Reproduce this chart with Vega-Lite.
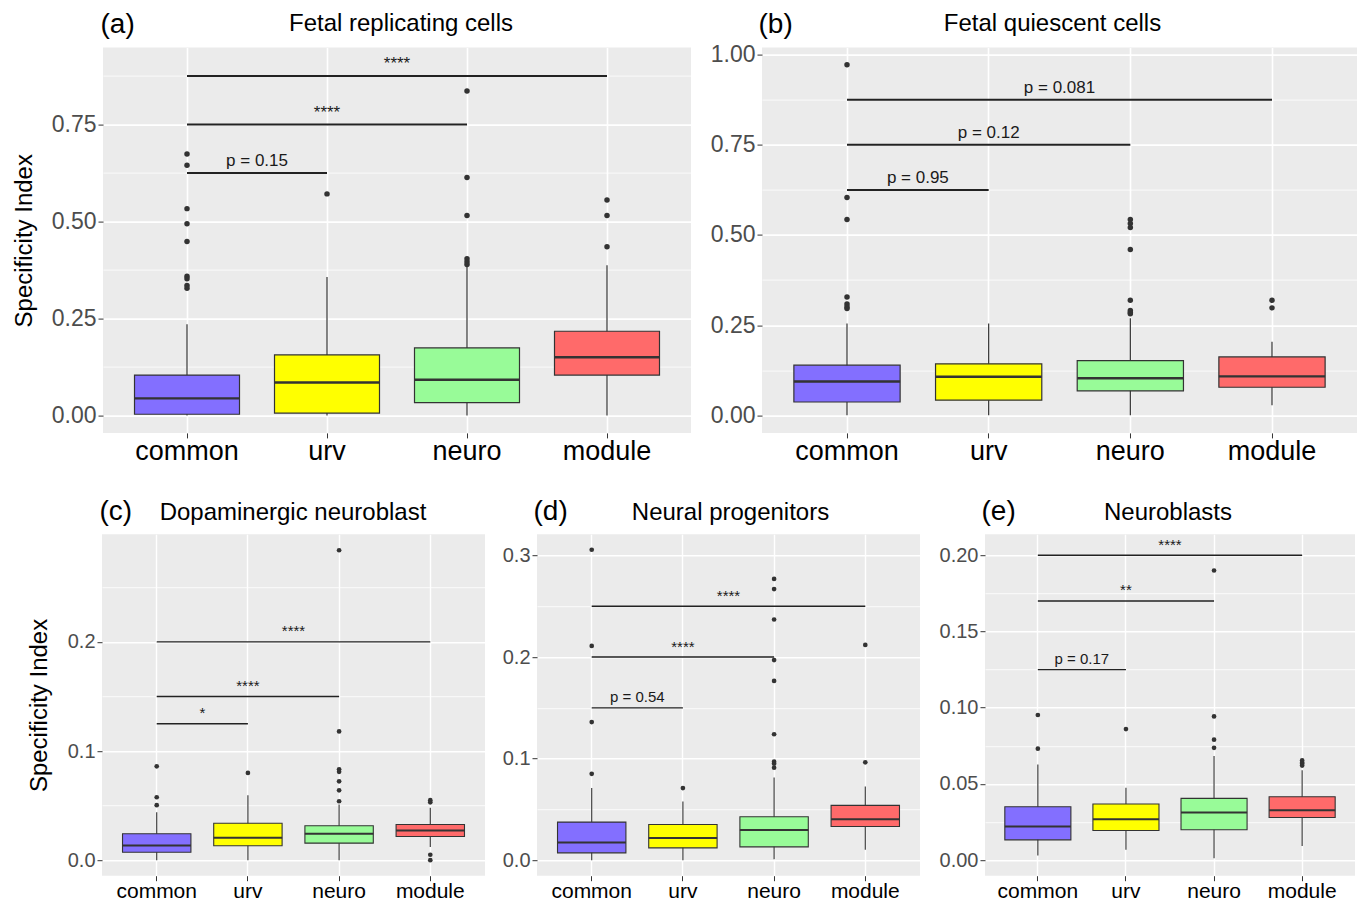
{
"$schema": "https://vega.github.io/schema/vega-lite/v6.json",
"padding": {"left": 0, "top": 10.6, "right": 0, "bottom": 0},
"background": "white",
"config": {
  "font": "Liberation Sans",
  "view": {"fill": "#EBEBEB", "stroke": null},
  "title": {"fontWeight": "normal", "color": "#000000"},
  "axis": {"domain": false, "labelFont": "Liberation Sans", "titleFont": "Liberation Sans"}
},
"datasets": {
"boxes": [
{"panel":"a","group":"common","lower":0,"q1":0.003,"median":0.044,"q3":0.104,"upper":0.235},
{"panel":"a","group":"urv","lower":0,"q1":0.006,"median":0.085,"q3":0.156,"upper":0.357},
{"panel":"a","group":"neuro","lower":0,"q1":0.033,"median":0.092,"q3":0.174,"upper":0.387},
{"panel":"a","group":"module","lower":0,"q1":0.104,"median":0.15,"q3":0.217,"upper":0.387},
{"panel":"b","group":"common","lower":0,"q1":0.037,"median":0.094,"q3":0.139,"upper":0.255},
{"panel":"b","group":"urv","lower":0,"q1":0.042,"median":0.107,"q3":0.143,"upper":0.255},
{"panel":"b","group":"neuro","lower":0,"q1":0.068,"median":0.103,"q3":0.152,"upper":0.269},
{"panel":"b","group":"module","lower":0.028,"q1":0.078,"median":0.108,"q3":0.162,"upper":0.204},
{"panel":"c","group":"common","lower":0,"q1":0.0073,"median":0.0135,"q3":0.0242,"upper":0.044},
{"panel":"c","group":"urv","lower":0,"q1":0.0132,"median":0.0205,"q3":0.0339,"upper":0.0595},
{"panel":"c","group":"neuro","lower":0,"q1":0.0156,"median":0.0242,"q3":0.0315,"upper":0.051},
{"panel":"c","group":"module","lower":0.012,"q1":0.0217,"median":0.0272,"q3":0.0327,"upper":0.048},
{"panel":"d","group":"common","lower":0,"q1":0.0072,"median":0.0174,"q3":0.0375,"upper":0.071},
{"panel":"d","group":"urv","lower":0,"q1":0.0121,"median":0.0217,"q3":0.0351,"upper":0.0578},
{"panel":"d","group":"neuro","lower":0.001,"q1":0.0131,"median":0.0296,"q3":0.0427,"upper":0.0815},
{"panel":"d","group":"module","lower":0.0102,"q1":0.0332,"median":0.0404,"q3":0.0539,"upper":0.0726},
{"panel":"e","group":"common","lower":0.003,"q1":0.0133,"median":0.0221,"q3":0.035,"upper":0.0628},
{"panel":"e","group":"urv","lower":0.0068,"q1":0.0194,"median":0.0269,"q3":0.0368,"upper":0.0475},
{"panel":"e","group":"neuro","lower":0.0013,"q1":0.0199,"median":0.0313,"q3":0.0405,"upper":0.0683},
{"panel":"e","group":"module","lower":0.0092,"q1":0.028,"median":0.0328,"q3":0.0416,"upper":0.059}
],
"outliers": [
{"panel":"a","group":"common","value":0.674},{"panel":"a","group":"common","value":0.645},{"panel":"a","group":"common","value":0.533},{"panel":"a","group":"common","value":0.494},{"panel":"a","group":"common","value":0.448},{"panel":"a","group":"common","value":0.359},{"panel":"a","group":"common","value":0.352},{"panel":"a","group":"common","value":0.335},{"panel":"a","group":"common","value":0.328},
{"panel":"a","group":"urv","value":0.571},
{"panel":"a","group":"neuro","value":0.836},{"panel":"a","group":"neuro","value":0.613},{"panel":"a","group":"neuro","value":0.515},{"panel":"a","group":"neuro","value":0.404},{"panel":"a","group":"neuro","value":0.396},{"panel":"a","group":"neuro","value":0.389},
{"panel":"a","group":"module","value":0.555},{"panel":"a","group":"module","value":0.515},{"panel":"a","group":"module","value":0.435},
{"panel":"b","group":"common","value":0.972},{"panel":"b","group":"common","value":0.604},{"panel":"b","group":"common","value":0.543},{"panel":"b","group":"common","value":0.328},{"panel":"b","group":"common","value":0.309},{"panel":"b","group":"common","value":0.301},{"panel":"b","group":"common","value":0.296},
{"panel":"b","group":"neuro","value":0.543},{"panel":"b","group":"neuro","value":0.532},{"panel":"b","group":"neuro","value":0.521},{"panel":"b","group":"neuro","value":0.46},{"panel":"b","group":"neuro","value":0.319},{"panel":"b","group":"neuro","value":0.291},{"panel":"b","group":"neuro","value":0.285},{"panel":"b","group":"neuro","value":0.282},
{"panel":"b","group":"module","value":0.319},{"panel":"b","group":"module","value":0.298},
{"panel":"c","group":"common","value":0.086},{"panel":"c","group":"common","value":0.0577},{"panel":"c","group":"common","value":0.0504},
{"panel":"c","group":"urv","value":0.08},
{"panel":"c","group":"neuro","value":0.284},{"panel":"c","group":"neuro","value":0.118},{"panel":"c","group":"neuro","value":0.0833},{"panel":"c","group":"neuro","value":0.081},{"panel":"c","group":"neuro","value":0.0723},{"panel":"c","group":"neuro","value":0.064},{"panel":"c","group":"neuro","value":0.054},
{"panel":"c","group":"module","value":0.055},{"panel":"c","group":"module","value":0.053},{"panel":"c","group":"module","value":0.005},{"panel":"c","group":"module","value":0.0},
{"panel":"d","group":"common","value":0.3057},{"panel":"d","group":"common","value":0.211},{"panel":"d","group":"common","value":0.136},{"panel":"d","group":"common","value":0.085},
{"panel":"d","group":"urv","value":0.071},
{"panel":"d","group":"neuro","value":0.277},{"panel":"d","group":"neuro","value":0.267},{"panel":"d","group":"neuro","value":0.237},{"panel":"d","group":"neuro","value":0.197},{"panel":"d","group":"neuro","value":0.1765},{"panel":"d","group":"neuro","value":0.124},{"panel":"d","group":"neuro","value":0.097},{"panel":"d","group":"neuro","value":0.095},{"panel":"d","group":"neuro","value":0.091},
{"panel":"d","group":"module","value":0.212},{"panel":"d","group":"module","value":0.0963},
{"panel":"e","group":"common","value":0.0952},{"panel":"e","group":"common","value":0.0731},
{"panel":"e","group":"urv","value":0.086},
{"panel":"e","group":"neuro","value":0.19},{"panel":"e","group":"neuro","value":0.0943},{"panel":"e","group":"neuro","value":0.079},{"panel":"e","group":"neuro","value":0.0737},
{"panel":"e","group":"module","value":0.0654},{"panel":"e","group":"module","value":0.064},{"panel":"e","group":"module","value":0.0632},{"panel":"e","group":"module","value":0.062}
],
"brackets": [
{"panel":"a","g1":"common","g2":"urv","y":0.625,"label":"p = 0.15"},
{"panel":"a","g1":"common","g2":"neuro","y":0.75,"label":"****"},
{"panel":"a","g1":"common","g2":"module","y":0.875,"label":"****"},
{"panel":"b","g1":"common","g2":"urv","y":0.625,"label":"p = 0.95"},
{"panel":"b","g1":"common","g2":"neuro","y":0.75,"label":"p = 0.12"},
{"panel":"b","g1":"common","g2":"module","y":0.875,"label":"p = 0.081"},
{"panel":"c","g1":"common","g2":"urv","y":0.125,"label":"*"},
{"panel":"c","g1":"common","g2":"neuro","y":0.15,"label":"****"},
{"panel":"c","g1":"common","g2":"module","y":0.2,"label":"****"},
{"panel":"d","g1":"common","g2":"urv","y":0.15,"label":"p = 0.54"},
{"panel":"d","g1":"common","g2":"neuro","y":0.2,"label":"****"},
{"panel":"d","g1":"common","g2":"module","y":0.25,"label":"****"},
{"panel":"e","g1":"common","g2":"urv","y":0.125,"label":"p = 0.17"},
{"panel":"e","g1":"common","g2":"neuro","y":0.17,"label":"**"},
{"panel":"e","g1":"common","g2":"module","y":0.2,"label":"****"}
]
},
"spacing": 31.6,
"vconcat": [
{"hconcat": [
{"width": 103, "height": 385.3, "view": {"fill": "#FFFFFF", "stroke": null}, "data": {"values": []}, "mark": {"type": "point", "opacity": 0}, "encoding": {}},
{
 "width": 588, "height": 385.3,
 "resolve": {"axis": {"x": "independent"}},
 "layer": [
  {"data": {"name": "boxes"}, "transform": [{"filter": "datum.panel == 'a'"}],
   "mark": {"type": "rule", "color": "#333333", "strokeWidth": 1.2},
   "encoding": {
    "x": {"field": "group", "type": "nominal", "scale": {"domain": ["common","urv","neuro","module"], "paddingInner": 0.25, "paddingOuter": 0.225}, "title": "(a)",
      "axis": {"bandPosition": 0.5, "grid": true, "gridColor": "#FFFFFF", "gridWidth": 1.6, "domain": false, "labelAngle": 0, "labelFontSize": 27, "labelColor": "#000000", "labelPadding": 1, "tickSize": 5, "tickColor": "#333333", "tickWidth": 1, "titleAngle": 0, "titleAlign": "left", "titleBaseline": "alphabetic", "titleX": -3, "titleY": -400, "titleFontSize": 28, "titleFontWeight": "normal", "titleColor": "#000000"}},
    "y": {"field": "lower", "type": "quantitative", "scale": {"domain": [-0.045, 0.948], "nice": false, "zero": false}, "title": "Specificity Index",
      "axis": {"values": [0,0.125,0.25,0.375,0.5,0.625,0.75,0.875], "labelExpr": "indexof([0.125,0.375,0.625,0.875], datum.value) >= 0 ? '' : format(datum.value, '.2f')", "labelOverlap": false, "grid": true, "gridColor": "#FFFFFF", "gridWidth": {"condition": {"test": "indexof([0.125,0.375,0.625,0.875], datum.value) >= 0", "value": 0.8}, "value": 1.6}, "tickOpacity": {"condition": {"test": "indexof([0.125,0.375,0.625,0.875], datum.value) >= 0", "value": 0}, "value": 1}, "tickColor": "#333333", "tickSize": 5, "tickWidth": 1, "domain": false, "labelFontSize": 23, "labelColor": "#4D4D4D", "labelPadding": 2, "titleFontSize": 24, "titleFontWeight": "normal", "titleColor": "#000000", "titlePadding": 15}},
    "y2": {"field": "upper"}
   }},
  {"data": {"name": "boxes"}, "transform": [{"filter": "datum.panel == 'a'"}],
   "mark": {"type": "bar", "stroke": "#333333", "strokeWidth": 1.2},
   "encoding": {
    "x": {"field": "group", "type": "nominal", "scale": {"domain": ["common","urv","neuro","module"], "paddingInner": 0.25, "paddingOuter": 0.225}, "title": "Fetal replicating cells",
      "axis": {"orient": "top", "labels": false, "ticks": false, "domain": false, "grid": false, "titleAngle": 0, "titleAlign": "center", "titleBaseline": "alphabetic", "titleX": 297.5, "titleY": -16.7, "titleFontSize": 24, "titleFontWeight": "normal", "titleColor": "#000000"}},
    "y": {"field": "q1", "type": "quantitative", "scale": {"domain": [-0.045, 0.948], "nice": false, "zero": false}, "title": "Specificity Index"},
    "y2": {"field": "q3"},
    "color": {"field": "group", "type": "nominal", "scale": {"domain": ["common","urv","neuro","module"], "range": ["#836FFF","#FFFF00","#98FB98","#FF6A6A"]}, "legend": null}
   }},
  {"data": {"name": "boxes"}, "transform": [{"filter": "datum.panel == 'a'"}],
   "mark": {"type": "bar", "fillOpacity": 0, "stroke": "#333333", "strokeWidth": 2.4},
   "encoding": {
    "x": {"field": "group", "type": "nominal", "scale": {"domain": ["common","urv","neuro","module"], "paddingInner": 0.25, "paddingOuter": 0.225}, "axis": null},
    "y": {"field": "median", "type": "quantitative", "scale": {"domain": [-0.045, 0.948], "nice": false, "zero": false}, "title": "Specificity Index"},
    "y2": {"field": "median"}
   }},
  {"data": {"name": "outliers"}, "transform": [{"filter": "datum.panel == 'a'"}],
   "mark": {"type": "point", "filled": true, "color": "#333333", "size": 30, "opacity": 1},
   "encoding": {
    "x": {"field": "group", "type": "nominal", "scale": {"domain": ["common","urv","neuro","module"], "paddingInner": 0.25, "paddingOuter": 0.225}, "axis": null},
    "y": {"field": "value", "type": "quantitative", "scale": {"domain": [-0.045, 0.948], "nice": false, "zero": false}, "title": "Specificity Index"}
   }},
  {"data": {"name": "brackets"}, "transform": [{"filter": "datum.panel == 'a'"}],
   "mark": {"type": "rule", "color": "#222222", "strokeWidth": 2},
   "encoding": {
    "x": {"field": "g1", "type": "nominal", "bandPosition": 0.5, "scale": {"domain": ["common","urv","neuro","module"], "paddingInner": 0.25, "paddingOuter": 0.225}, "axis": null},
    "x2": {"field": "g2", "bandPosition": 0.5},
    "y": {"field": "y", "type": "quantitative", "scale": {"domain": [-0.045, 0.948], "nice": false, "zero": false}, "title": "Specificity Index"}
   }},
  {"data": {"name": "brackets"}, "transform": [{"filter": "datum.panel == 'a' && datum.g2 == 'urv'"}],
   "mark": {"type": "text", "fontSize": 17, "baseline": "alphabetic", "align": "center", "dy": -6.5, "color": "#1A1A1A"},
   "encoding": {
    "x": {"field": "g1", "type": "nominal", "bandPosition": 1.166667, "scale": {"domain": ["common","urv","neuro","module"], "paddingInner": 0.25, "paddingOuter": 0.225}, "axis": null},
    "y": {"field": "y", "type": "quantitative", "scale": {"domain": [-0.045, 0.948], "nice": false, "zero": false}, "title": "Specificity Index"},
    "text": {"field": "label"}
   }},
  {"data": {"name": "brackets"}, "transform": [{"filter": "datum.panel == 'a' && datum.g2 == 'neuro'"}],
   "mark": {"type": "text", "fontSize": 17, "baseline": "alphabetic", "align": "center", "dy": -6.5, "color": "#1A1A1A"},
   "encoding": {
    "x": {"field": "g1", "type": "nominal", "bandPosition": 1.833333, "scale": {"domain": ["common","urv","neuro","module"], "paddingInner": 0.25, "paddingOuter": 0.225}, "axis": null},
    "y": {"field": "y", "type": "quantitative", "scale": {"domain": [-0.045, 0.948], "nice": false, "zero": false}, "title": "Specificity Index"},
    "text": {"field": "label"}
   }},
  {"data": {"name": "brackets"}, "transform": [{"filter": "datum.panel == 'a' && datum.g2 == 'module'"}],
   "mark": {"type": "text", "fontSize": 17, "baseline": "alphabetic", "align": "center", "dy": -6.5, "color": "#1A1A1A"},
   "encoding": {
    "x": {"field": "g1", "type": "nominal", "bandPosition": 2.5, "scale": {"domain": ["common","urv","neuro","module"], "paddingInner": 0.25, "paddingOuter": 0.225}, "axis": null},
    "y": {"field": "y", "type": "quantitative", "scale": {"domain": [-0.045, 0.948], "nice": false, "zero": false}, "title": "Specificity Index"},
    "text": {"field": "label"}
   }}
 ]
},
{"width": 71, "height": 385.3, "view": {"fill": null, "stroke": null}, "data": {"values": []}, "mark": {"type": "point", "opacity": 0}, "encoding": {}},
{
 "width": 595, "height": 385.3,
 "resolve": {"axis": {"x": "independent"}},
 "layer": [
  {"data": {"name": "boxes"}, "transform": [{"filter": "datum.panel == 'b'"}],
   "mark": {"type": "rule", "color": "#333333", "strokeWidth": 1.2},
   "encoding": {
    "x": {"field": "group", "type": "nominal", "scale": {"domain": ["common","urv","neuro","module"], "paddingInner": 0.25, "paddingOuter": 0.225}, "title": "(b)",
      "axis": {"bandPosition": 0.5, "grid": true, "gridColor": "#FFFFFF", "gridWidth": 1.6, "domain": false, "labelAngle": 0, "labelFontSize": 27, "labelColor": "#000000", "labelPadding": 1, "tickSize": 5, "tickColor": "#333333", "tickWidth": 1, "titleAngle": 0, "titleAlign": "left", "titleBaseline": "alphabetic", "titleX": -4, "titleY": -400, "titleFontSize": 28, "titleFontWeight": "normal", "titleColor": "#000000"}},
    "y": {"field": "lower", "type": "quantitative", "scale": {"domain": [-0.0486, 1.0195], "nice": false, "zero": false}, "title": null,
      "axis": {"values": [0,0.125,0.25,0.375,0.5,0.625,0.75,0.875,1], "labelExpr": "indexof([0.125,0.375,0.625,0.875], datum.value) >= 0 ? '' : format(datum.value, '.2f')", "labelOverlap": false, "grid": true, "gridColor": "#FFFFFF", "gridWidth": {"condition": {"test": "indexof([0.125,0.375,0.625,0.875], datum.value) >= 0", "value": 0.8}, "value": 1.6}, "tickOpacity": {"condition": {"test": "indexof([0.125,0.375,0.625,0.875], datum.value) >= 0", "value": 0}, "value": 1}, "tickColor": "#333333", "tickSize": 5, "tickWidth": 1, "domain": false, "labelFontSize": 23, "labelColor": "#4D4D4D", "labelPadding": 2}},
    "y2": {"field": "upper"}
   }},
  {"data": {"name": "boxes"}, "transform": [{"filter": "datum.panel == 'b'"}],
   "mark": {"type": "bar", "stroke": "#333333", "strokeWidth": 1.2},
   "encoding": {
    "x": {"field": "group", "type": "nominal", "scale": {"domain": ["common","urv","neuro","module"], "paddingInner": 0.25, "paddingOuter": 0.225}, "title": "Fetal quiescent cells",
      "axis": {"orient": "top", "labels": false, "ticks": false, "domain": false, "grid": false, "titleAngle": 0, "titleAlign": "center", "titleBaseline": "alphabetic", "titleX": 290, "titleY": -16.7, "titleFontSize": 24, "titleFontWeight": "normal", "titleColor": "#000000"}},
    "y": {"field": "q1", "type": "quantitative", "scale": {"domain": [-0.0486, 1.0195], "nice": false, "zero": false}, "title": null},
    "y2": {"field": "q3"},
    "color": {"field": "group", "type": "nominal", "scale": {"domain": ["common","urv","neuro","module"], "range": ["#836FFF","#FFFF00","#98FB98","#FF6A6A"]}, "legend": null}
   }},
  {"data": {"name": "boxes"}, "transform": [{"filter": "datum.panel == 'b'"}],
   "mark": {"type": "bar", "fillOpacity": 0, "stroke": "#333333", "strokeWidth": 2.4},
   "encoding": {
    "x": {"field": "group", "type": "nominal", "scale": {"domain": ["common","urv","neuro","module"], "paddingInner": 0.25, "paddingOuter": 0.225}, "axis": null},
    "y": {"field": "median", "type": "quantitative", "scale": {"domain": [-0.0486, 1.0195], "nice": false, "zero": false}, "title": null},
    "y2": {"field": "median"}
   }},
  {"data": {"name": "outliers"}, "transform": [{"filter": "datum.panel == 'b'"}],
   "mark": {"type": "point", "filled": true, "color": "#333333", "size": 30, "opacity": 1},
   "encoding": {
    "x": {"field": "group", "type": "nominal", "scale": {"domain": ["common","urv","neuro","module"], "paddingInner": 0.25, "paddingOuter": 0.225}, "axis": null},
    "y": {"field": "value", "type": "quantitative", "scale": {"domain": [-0.0486, 1.0195], "nice": false, "zero": false}, "title": null}
   }},
  {"data": {"name": "brackets"}, "transform": [{"filter": "datum.panel == 'b'"}],
   "mark": {"type": "rule", "color": "#222222", "strokeWidth": 2},
   "encoding": {
    "x": {"field": "g1", "type": "nominal", "bandPosition": 0.5, "scale": {"domain": ["common","urv","neuro","module"], "paddingInner": 0.25, "paddingOuter": 0.225}, "axis": null},
    "x2": {"field": "g2", "bandPosition": 0.5},
    "y": {"field": "y", "type": "quantitative", "scale": {"domain": [-0.0486, 1.0195], "nice": false, "zero": false}, "title": null}
   }},
  {"data": {"name": "brackets"}, "transform": [{"filter": "datum.panel == 'b' && datum.g2 == 'urv'"}],
   "mark": {"type": "text", "fontSize": 17, "baseline": "alphabetic", "align": "center", "dy": -6.5, "color": "#1A1A1A"},
   "encoding": {
    "x": {"field": "g1", "type": "nominal", "bandPosition": 1.166667, "scale": {"domain": ["common","urv","neuro","module"], "paddingInner": 0.25, "paddingOuter": 0.225}, "axis": null},
    "y": {"field": "y", "type": "quantitative", "scale": {"domain": [-0.0486, 1.0195], "nice": false, "zero": false}, "title": null},
    "text": {"field": "label"}
   }},
  {"data": {"name": "brackets"}, "transform": [{"filter": "datum.panel == 'b' && datum.g2 == 'neuro'"}],
   "mark": {"type": "text", "fontSize": 17, "baseline": "alphabetic", "align": "center", "dy": -6.5, "color": "#1A1A1A"},
   "encoding": {
    "x": {"field": "g1", "type": "nominal", "bandPosition": 1.833333, "scale": {"domain": ["common","urv","neuro","module"], "paddingInner": 0.25, "paddingOuter": 0.225}, "axis": null},
    "y": {"field": "y", "type": "quantitative", "scale": {"domain": [-0.0486, 1.0195], "nice": false, "zero": false}, "title": null},
    "text": {"field": "label"}
   }},
  {"data": {"name": "brackets"}, "transform": [{"filter": "datum.panel == 'b' && datum.g2 == 'module'"}],
   "mark": {"type": "text", "fontSize": 17, "baseline": "alphabetic", "align": "center", "dy": -6.5, "color": "#1A1A1A"},
   "encoding": {
    "x": {"field": "g1", "type": "nominal", "bandPosition": 2.5, "scale": {"domain": ["common","urv","neuro","module"], "paddingInner": 0.25, "paddingOuter": 0.225}, "axis": null},
    "y": {"field": "y", "type": "quantitative", "scale": {"domain": [-0.0486, 1.0195], "nice": false, "zero": false}, "title": null},
    "text": {"field": "label"}
   }}
 ]
}
], "spacing": 0, "bounds": "flush"},
{"hconcat": [
{"width": 101.7, "height": 341.5, "view": {"fill": "#FFFFFF", "stroke": null}, "data": {"values": []}, "mark": {"type": "point", "opacity": 0}, "encoding": {}},
{
 "width": 383, "height": 341.5,
 "resolve": {"axis": {"x": "independent"}},
 "layer": [
  {"data": {"name": "boxes"}, "transform": [{"filter": "datum.panel == 'c'"}],
   "mark": {"type": "rule", "color": "#333333", "strokeWidth": 1.1},
   "encoding": {
    "x": {"field": "group", "type": "nominal", "scale": {"domain": ["common","urv","neuro","module"], "paddingInner": 0.25, "paddingOuter": 0.225}, "title": "(c)",
      "axis": {"bandPosition": 0.5, "grid": true, "gridColor": "#FFFFFF", "gridWidth": 1.4, "domain": false, "labelAngle": 0, "labelFontSize": 21, "labelColor": "#000000", "labelPadding": 0, "tickSize": 5, "tickColor": "#333333", "tickWidth": 1, "titleAngle": 0, "titleAlign": "left", "titleBaseline": "alphabetic", "titleX": -3, "titleY": -355.8, "titleFontSize": 28, "titleFontWeight": "normal", "titleColor": "#000000"}},
    "y": {"field": "lower", "type": "quantitative", "scale": {"domain": [-0.0142, 0.2987], "nice": false, "zero": false}, "title": "Specificity Index",
      "axis": {"values": [0,0.05,0.1,0.15,0.2,0.25], "labelExpr": "indexof([0.05,0.15,0.25], datum.value) >= 0 ? '' : format(datum.value, '.1f')", "labelOverlap": false, "grid": true, "gridColor": "#FFFFFF", "gridWidth": {"condition": {"test": "indexof([0.05,0.15,0.25], datum.value) >= 0", "value": 0.8}, "value": 1.4}, "tickOpacity": {"condition": {"test": "indexof([0.05,0.15,0.25], datum.value) >= 0", "value": 0}, "value": 1}, "tickColor": "#333333", "tickSize": 5, "tickWidth": 1, "domain": false, "labelFontSize": 20, "labelColor": "#4D4D4D", "labelPadding": 2, "titleFontSize": 24, "titleFontWeight": "normal", "titleColor": "#000000", "titlePadding": 16}},
    "y2": {"field": "upper"}
   }},
  {"data": {"name": "boxes"}, "transform": [{"filter": "datum.panel == 'c'"}],
   "mark": {"type": "bar", "stroke": "#333333", "strokeWidth": 1.1},
   "encoding": {
    "x": {"field": "group", "type": "nominal", "scale": {"domain": ["common","urv","neuro","module"], "paddingInner": 0.25, "paddingOuter": 0.225}, "title": "Dopaminergic neuroblast",
      "axis": {"orient": "top", "labels": false, "ticks": false, "domain": false, "grid": false, "titleAngle": 0, "titleAlign": "center", "titleBaseline": "alphabetic", "titleX": 190.5, "titleY": -14.5, "titleFontSize": 24, "titleFontWeight": "normal", "titleColor": "#000000"}},
    "y": {"field": "q1", "type": "quantitative", "scale": {"domain": [-0.0142, 0.2987], "nice": false, "zero": false}, "title": "Specificity Index"},
    "y2": {"field": "q3"},
    "color": {"field": "group", "type": "nominal", "scale": {"domain": ["common","urv","neuro","module"], "range": ["#836FFF","#FFFF00","#98FB98","#FF6A6A"]}, "legend": null}
   }},
  {"data": {"name": "boxes"}, "transform": [{"filter": "datum.panel == 'c'"}],
   "mark": {"type": "bar", "fillOpacity": 0, "stroke": "#333333", "strokeWidth": 2},
   "encoding": {
    "x": {"field": "group", "type": "nominal", "scale": {"domain": ["common","urv","neuro","module"], "paddingInner": 0.25, "paddingOuter": 0.225}, "axis": null},
    "y": {"field": "median", "type": "quantitative", "scale": {"domain": [-0.0142, 0.2987], "nice": false, "zero": false}, "title": "Specificity Index"},
    "y2": {"field": "median"}
   }},
  {"data": {"name": "outliers"}, "transform": [{"filter": "datum.panel == 'c'"}],
   "mark": {"type": "point", "filled": true, "color": "#333333", "size": 22, "opacity": 1},
   "encoding": {
    "x": {"field": "group", "type": "nominal", "scale": {"domain": ["common","urv","neuro","module"], "paddingInner": 0.25, "paddingOuter": 0.225}, "axis": null},
    "y": {"field": "value", "type": "quantitative", "scale": {"domain": [-0.0142, 0.2987], "nice": false, "zero": false}, "title": "Specificity Index"}
   }},
  {"data": {"name": "brackets"}, "transform": [{"filter": "datum.panel == 'c'"}],
   "mark": {"type": "rule", "color": "#222222", "strokeWidth": 1.4},
   "encoding": {
    "x": {"field": "g1", "type": "nominal", "bandPosition": 0.5, "scale": {"domain": ["common","urv","neuro","module"], "paddingInner": 0.25, "paddingOuter": 0.225}, "axis": null},
    "x2": {"field": "g2", "bandPosition": 0.5},
    "y": {"field": "y", "type": "quantitative", "scale": {"domain": [-0.0142, 0.2987], "nice": false, "zero": false}, "title": "Specificity Index"}
   }},
  {"data": {"name": "brackets"}, "transform": [{"filter": "datum.panel == 'c' && datum.g2 == 'urv'"}],
   "mark": {"type": "text", "fontSize": 15, "baseline": "alphabetic", "align": "center", "dy": -5.5, "color": "#1A1A1A"},
   "encoding": {
    "x": {"field": "g1", "type": "nominal", "bandPosition": 1.166667, "scale": {"domain": ["common","urv","neuro","module"], "paddingInner": 0.25, "paddingOuter": 0.225}, "axis": null},
    "y": {"field": "y", "type": "quantitative", "scale": {"domain": [-0.0142, 0.2987], "nice": false, "zero": false}, "title": "Specificity Index"},
    "text": {"field": "label"}
   }},
  {"data": {"name": "brackets"}, "transform": [{"filter": "datum.panel == 'c' && datum.g2 == 'neuro'"}],
   "mark": {"type": "text", "fontSize": 15, "baseline": "alphabetic", "align": "center", "dy": -5.5, "color": "#1A1A1A"},
   "encoding": {
    "x": {"field": "g1", "type": "nominal", "bandPosition": 1.833333, "scale": {"domain": ["common","urv","neuro","module"], "paddingInner": 0.25, "paddingOuter": 0.225}, "axis": null},
    "y": {"field": "y", "type": "quantitative", "scale": {"domain": [-0.0142, 0.2987], "nice": false, "zero": false}, "title": "Specificity Index"},
    "text": {"field": "label"}
   }},
  {"data": {"name": "brackets"}, "transform": [{"filter": "datum.panel == 'c' && datum.g2 == 'module'"}],
   "mark": {"type": "text", "fontSize": 15, "baseline": "alphabetic", "align": "center", "dy": -5.5, "color": "#1A1A1A"},
   "encoding": {
    "x": {"field": "g1", "type": "nominal", "bandPosition": 2.5, "scale": {"domain": ["common","urv","neuro","module"], "paddingInner": 0.25, "paddingOuter": 0.225}, "axis": null},
    "y": {"field": "y", "type": "quantitative", "scale": {"domain": [-0.0142, 0.2987], "nice": false, "zero": false}, "title": "Specificity Index"},
    "text": {"field": "label"}
   }}
 ]
},
{"width": 51.3, "height": 341.5, "view": {"fill": null, "stroke": null}, "data": {"values": []}, "mark": {"type": "point", "opacity": 0}, "encoding": {}},
{
 "width": 383, "height": 341.5,
 "resolve": {"axis": {"x": "independent"}},
 "layer": [
  {"data": {"name": "boxes"}, "transform": [{"filter": "datum.panel == 'd'"}],
   "mark": {"type": "rule", "color": "#333333", "strokeWidth": 1.1},
   "encoding": {
    "x": {"field": "group", "type": "nominal", "scale": {"domain": ["common","urv","neuro","module"], "paddingInner": 0.25, "paddingOuter": 0.225}, "title": "(d)",
      "axis": {"bandPosition": 0.5, "grid": true, "gridColor": "#FFFFFF", "gridWidth": 1.4, "domain": false, "labelAngle": 0, "labelFontSize": 21, "labelColor": "#000000", "labelPadding": 0, "tickSize": 5, "tickColor": "#333333", "tickWidth": 1, "titleAngle": 0, "titleAlign": "left", "titleBaseline": "alphabetic", "titleX": -4, "titleY": -355.8, "titleFontSize": 28, "titleFontWeight": "normal", "titleColor": "#000000"}},
    "y": {"field": "lower", "type": "quantitative", "scale": {"domain": [-0.0153, 0.321], "nice": false, "zero": false}, "title": null,
      "axis": {"values": [0,0.05,0.1,0.15,0.2,0.25,0.3], "labelExpr": "indexof([0.05,0.15,0.25], datum.value) >= 0 ? '' : format(datum.value, '.1f')", "labelOverlap": false, "grid": true, "gridColor": "#FFFFFF", "gridWidth": {"condition": {"test": "indexof([0.05,0.15,0.25], datum.value) >= 0", "value": 0.8}, "value": 1.4}, "tickOpacity": {"condition": {"test": "indexof([0.05,0.15,0.25], datum.value) >= 0", "value": 0}, "value": 1}, "tickColor": "#333333", "tickSize": 5, "tickWidth": 1, "domain": false, "labelFontSize": 20, "labelColor": "#4D4D4D", "labelPadding": 2}},
    "y2": {"field": "upper"}
   }},
  {"data": {"name": "boxes"}, "transform": [{"filter": "datum.panel == 'd'"}],
   "mark": {"type": "bar", "stroke": "#333333", "strokeWidth": 1.1},
   "encoding": {
    "x": {"field": "group", "type": "nominal", "scale": {"domain": ["common","urv","neuro","module"], "paddingInner": 0.25, "paddingOuter": 0.225}, "title": "Neural progenitors",
      "axis": {"orient": "top", "labels": false, "ticks": false, "domain": false, "grid": false, "titleAngle": 0, "titleAlign": "center", "titleBaseline": "alphabetic", "titleX": 193, "titleY": -15, "titleFontSize": 24, "titleFontWeight": "normal", "titleColor": "#000000"}},
    "y": {"field": "q1", "type": "quantitative", "scale": {"domain": [-0.0153, 0.321], "nice": false, "zero": false}, "title": null},
    "y2": {"field": "q3"},
    "color": {"field": "group", "type": "nominal", "scale": {"domain": ["common","urv","neuro","module"], "range": ["#836FFF","#FFFF00","#98FB98","#FF6A6A"]}, "legend": null}
   }},
  {"data": {"name": "boxes"}, "transform": [{"filter": "datum.panel == 'd'"}],
   "mark": {"type": "bar", "fillOpacity": 0, "stroke": "#333333", "strokeWidth": 2},
   "encoding": {
    "x": {"field": "group", "type": "nominal", "scale": {"domain": ["common","urv","neuro","module"], "paddingInner": 0.25, "paddingOuter": 0.225}, "axis": null},
    "y": {"field": "median", "type": "quantitative", "scale": {"domain": [-0.0153, 0.321], "nice": false, "zero": false}, "title": null},
    "y2": {"field": "median"}
   }},
  {"data": {"name": "outliers"}, "transform": [{"filter": "datum.panel == 'd'"}],
   "mark": {"type": "point", "filled": true, "color": "#333333", "size": 22, "opacity": 1},
   "encoding": {
    "x": {"field": "group", "type": "nominal", "scale": {"domain": ["common","urv","neuro","module"], "paddingInner": 0.25, "paddingOuter": 0.225}, "axis": null},
    "y": {"field": "value", "type": "quantitative", "scale": {"domain": [-0.0153, 0.321], "nice": false, "zero": false}, "title": null}
   }},
  {"data": {"name": "brackets"}, "transform": [{"filter": "datum.panel == 'd'"}],
   "mark": {"type": "rule", "color": "#222222", "strokeWidth": 1.4},
   "encoding": {
    "x": {"field": "g1", "type": "nominal", "bandPosition": 0.5, "scale": {"domain": ["common","urv","neuro","module"], "paddingInner": 0.25, "paddingOuter": 0.225}, "axis": null},
    "x2": {"field": "g2", "bandPosition": 0.5},
    "y": {"field": "y", "type": "quantitative", "scale": {"domain": [-0.0153, 0.321], "nice": false, "zero": false}, "title": null}
   }},
  {"data": {"name": "brackets"}, "transform": [{"filter": "datum.panel == 'd' && datum.g2 == 'urv'"}],
   "mark": {"type": "text", "fontSize": 15, "baseline": "alphabetic", "align": "center", "dy": -5.5, "color": "#1A1A1A"},
   "encoding": {
    "x": {"field": "g1", "type": "nominal", "bandPosition": 1.166667, "scale": {"domain": ["common","urv","neuro","module"], "paddingInner": 0.25, "paddingOuter": 0.225}, "axis": null},
    "y": {"field": "y", "type": "quantitative", "scale": {"domain": [-0.0153, 0.321], "nice": false, "zero": false}, "title": null},
    "text": {"field": "label"}
   }},
  {"data": {"name": "brackets"}, "transform": [{"filter": "datum.panel == 'd' && datum.g2 == 'neuro'"}],
   "mark": {"type": "text", "fontSize": 15, "baseline": "alphabetic", "align": "center", "dy": -5.5, "color": "#1A1A1A"},
   "encoding": {
    "x": {"field": "g1", "type": "nominal", "bandPosition": 1.833333, "scale": {"domain": ["common","urv","neuro","module"], "paddingInner": 0.25, "paddingOuter": 0.225}, "axis": null},
    "y": {"field": "y", "type": "quantitative", "scale": {"domain": [-0.0153, 0.321], "nice": false, "zero": false}, "title": null},
    "text": {"field": "label"}
   }},
  {"data": {"name": "brackets"}, "transform": [{"filter": "datum.panel == 'd' && datum.g2 == 'module'"}],
   "mark": {"type": "text", "fontSize": 15, "baseline": "alphabetic", "align": "center", "dy": -5.5, "color": "#1A1A1A"},
   "encoding": {
    "x": {"field": "g1", "type": "nominal", "bandPosition": 2.5, "scale": {"domain": ["common","urv","neuro","module"], "paddingInner": 0.25, "paddingOuter": 0.225}, "axis": null},
    "y": {"field": "y", "type": "quantitative", "scale": {"domain": [-0.0153, 0.321], "nice": false, "zero": false}, "title": null},
    "text": {"field": "label"}
   }}
 ]
},
{"width": 64.6, "height": 341.5, "view": {"fill": null, "stroke": null}, "data": {"values": []}, "mark": {"type": "point", "opacity": 0}, "encoding": {}},
{
 "width": 370, "height": 341.5,
 "resolve": {"axis": {"x": "independent"}},
 "layer": [
  {"data": {"name": "boxes"}, "transform": [{"filter": "datum.panel == 'e'"}],
   "mark": {"type": "rule", "color": "#333333", "strokeWidth": 1.1},
   "encoding": {
    "x": {"field": "group", "type": "nominal", "scale": {"domain": ["common","urv","neuro","module"], "paddingInner": 0.25, "paddingOuter": 0.225}, "title": "(e)",
      "axis": {"bandPosition": 0.5, "grid": true, "gridColor": "#FFFFFF", "gridWidth": 1.4, "domain": false, "labelAngle": 0, "labelFontSize": 21, "labelColor": "#000000", "labelPadding": 0, "tickSize": 5, "tickColor": "#333333", "tickWidth": 1, "titleAngle": 0, "titleAlign": "left", "titleBaseline": "alphabetic", "titleX": -4, "titleY": -355.8, "titleFontSize": 28, "titleFontWeight": "normal", "titleColor": "#000000"}},
    "y": {"field": "lower", "type": "quantitative", "scale": {"domain": [-0.0102, 0.2138], "nice": false, "zero": false}, "title": null,
      "axis": {"values": [0,0.025,0.05,0.075,0.1,0.125,0.15,0.175,0.2], "labelExpr": "indexof([0.025,0.075,0.125,0.175], datum.value) >= 0 ? '' : format(datum.value, '.2f')", "labelOverlap": false, "grid": true, "gridColor": "#FFFFFF", "gridWidth": {"condition": {"test": "indexof([0.025,0.075,0.125,0.175], datum.value) >= 0", "value": 0.8}, "value": 1.4}, "tickOpacity": {"condition": {"test": "indexof([0.025,0.075,0.125,0.175], datum.value) >= 0", "value": 0}, "value": 1}, "tickColor": "#333333", "tickSize": 5, "tickWidth": 1, "domain": false, "labelFontSize": 20, "labelColor": "#4D4D4D", "labelPadding": 2}},
    "y2": {"field": "upper"}
   }},
  {"data": {"name": "boxes"}, "transform": [{"filter": "datum.panel == 'e'"}],
   "mark": {"type": "bar", "stroke": "#333333", "strokeWidth": 1.1},
   "encoding": {
    "x": {"field": "group", "type": "nominal", "scale": {"domain": ["common","urv","neuro","module"], "paddingInner": 0.25, "paddingOuter": 0.225}, "title": "Neuroblasts",
      "axis": {"orient": "top", "labels": false, "ticks": false, "domain": false, "grid": false, "titleAngle": 0, "titleAlign": "center", "titleBaseline": "alphabetic", "titleX": 182.5, "titleY": -15, "titleFontSize": 24, "titleFontWeight": "normal", "titleColor": "#000000"}},
    "y": {"field": "q1", "type": "quantitative", "scale": {"domain": [-0.0102, 0.2138], "nice": false, "zero": false}, "title": null},
    "y2": {"field": "q3"},
    "color": {"field": "group", "type": "nominal", "scale": {"domain": ["common","urv","neuro","module"], "range": ["#836FFF","#FFFF00","#98FB98","#FF6A6A"]}, "legend": null}
   }},
  {"data": {"name": "boxes"}, "transform": [{"filter": "datum.panel == 'e'"}],
   "mark": {"type": "bar", "fillOpacity": 0, "stroke": "#333333", "strokeWidth": 2},
   "encoding": {
    "x": {"field": "group", "type": "nominal", "scale": {"domain": ["common","urv","neuro","module"], "paddingInner": 0.25, "paddingOuter": 0.225}, "axis": null},
    "y": {"field": "median", "type": "quantitative", "scale": {"domain": [-0.0102, 0.2138], "nice": false, "zero": false}, "title": null},
    "y2": {"field": "median"}
   }},
  {"data": {"name": "outliers"}, "transform": [{"filter": "datum.panel == 'e'"}],
   "mark": {"type": "point", "filled": true, "color": "#333333", "size": 22, "opacity": 1},
   "encoding": {
    "x": {"field": "group", "type": "nominal", "scale": {"domain": ["common","urv","neuro","module"], "paddingInner": 0.25, "paddingOuter": 0.225}, "axis": null},
    "y": {"field": "value", "type": "quantitative", "scale": {"domain": [-0.0102, 0.2138], "nice": false, "zero": false}, "title": null}
   }},
  {"data": {"name": "brackets"}, "transform": [{"filter": "datum.panel == 'e'"}],
   "mark": {"type": "rule", "color": "#222222", "strokeWidth": 1.4},
   "encoding": {
    "x": {"field": "g1", "type": "nominal", "bandPosition": 0.5, "scale": {"domain": ["common","urv","neuro","module"], "paddingInner": 0.25, "paddingOuter": 0.225}, "axis": null},
    "x2": {"field": "g2", "bandPosition": 0.5},
    "y": {"field": "y", "type": "quantitative", "scale": {"domain": [-0.0102, 0.2138], "nice": false, "zero": false}, "title": null}
   }},
  {"data": {"name": "brackets"}, "transform": [{"filter": "datum.panel == 'e' && datum.g2 == 'urv'"}],
   "mark": {"type": "text", "fontSize": 15, "baseline": "alphabetic", "align": "center", "dy": -5.5, "color": "#1A1A1A"},
   "encoding": {
    "x": {"field": "g1", "type": "nominal", "bandPosition": 1.166667, "scale": {"domain": ["common","urv","neuro","module"], "paddingInner": 0.25, "paddingOuter": 0.225}, "axis": null},
    "y": {"field": "y", "type": "quantitative", "scale": {"domain": [-0.0102, 0.2138], "nice": false, "zero": false}, "title": null},
    "text": {"field": "label"}
   }},
  {"data": {"name": "brackets"}, "transform": [{"filter": "datum.panel == 'e' && datum.g2 == 'neuro'"}],
   "mark": {"type": "text", "fontSize": 15, "baseline": "alphabetic", "align": "center", "dy": -5.5, "color": "#1A1A1A"},
   "encoding": {
    "x": {"field": "g1", "type": "nominal", "bandPosition": 1.833333, "scale": {"domain": ["common","urv","neuro","module"], "paddingInner": 0.25, "paddingOuter": 0.225}, "axis": null},
    "y": {"field": "y", "type": "quantitative", "scale": {"domain": [-0.0102, 0.2138], "nice": false, "zero": false}, "title": null},
    "text": {"field": "label"}
   }},
  {"data": {"name": "brackets"}, "transform": [{"filter": "datum.panel == 'e' && datum.g2 == 'module'"}],
   "mark": {"type": "text", "fontSize": 15, "baseline": "alphabetic", "align": "center", "dy": -5.5, "color": "#1A1A1A"},
   "encoding": {
    "x": {"field": "g1", "type": "nominal", "bandPosition": 2.5, "scale": {"domain": ["common","urv","neuro","module"], "paddingInner": 0.25, "paddingOuter": 0.225}, "axis": null},
    "y": {"field": "y", "type": "quantitative", "scale": {"domain": [-0.0102, 0.2138], "nice": false, "zero": false}, "title": null},
    "text": {"field": "label"}
   }}
 ]
}
], "spacing": 0, "bounds": "flush"}
]
}
